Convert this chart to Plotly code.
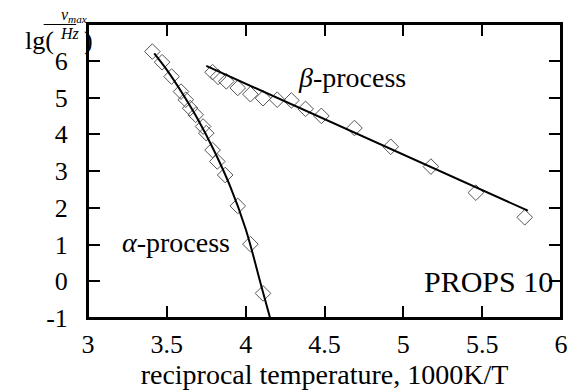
import plotly.graph_objects as go

# alpha-process data (reciprocal temperature, lg(nu_max/Hz))
alpha_x = [3.408, 3.47, 3.53, 3.59, 3.62, 3.648, 3.683, 3.73, 3.75, 3.79, 3.82, 3.87, 3.95, 4.03, 4.11]
alpha_y = [6.25, 5.96, 5.57, 5.16, 4.94, 4.71, 4.53, 4.21, 4.03, 3.57, 3.26, 2.89, 2.05, 1.01, -0.33]
# alpha fit curve
alpha_fit_x = [3.42, 3.5, 3.6, 3.7, 3.8, 3.9, 4.0, 4.1, 4.155]
alpha_fit_y = [6.2, 5.75, 5.1, 4.38, 3.55, 2.6, 1.42, -0.14, -1.0]

# beta-process data
beta_x = [3.79, 3.825, 3.877, 3.95, 4.03, 4.11, 4.20, 4.29, 4.38, 4.48, 4.69, 4.92, 5.175, 5.46, 5.77]
beta_y = [5.69, 5.56, 5.44, 5.26, 5.09, 4.98, 4.94, 4.92, 4.69, 4.50, 4.17, 3.66, 3.12, 2.41, 1.74]
beta_fit_x = [3.75, 5.79]
beta_fit_y = [5.86, 1.92]

x_ticks = [3, 3.5, 4, 4.5, 5, 5.5, 6]
x_ticktext = ["3", "3.5", "4", "4.5", "5", "5.5", "6"]
y_ticks = [-1, 0, 1, 2, 3, 4, 5, 6]
y_ticktext = ["-1", "0", "1", "2", "3", "4", "5", "6"]

FONT = "Liberation Serif, Times New Roman, serif"
W, H = 574, 391
ML, MR, MT, MB = 88, 6, 24, 73
PW, PH = W - ML - MR, H - MT - MB

def px(x):
    return (x - ML) / PW

def py(y):
    return (H - MB - y) / PH

fig = go.Figure()
mk = dict(symbol="diamond-open", size=12, color="#555555", line=dict(width=1, color="#555555"))
fig.add_trace(go.Scatter(x=alpha_x, y=alpha_y, mode="markers", marker=mk, showlegend=False))
fig.add_trace(go.Scatter(x=beta_x, y=beta_y, mode="markers", marker=mk, showlegend=False))
fig.add_trace(go.Scatter(x=alpha_fit_x, y=alpha_fit_y, mode="lines", line=dict(color="black", width=2, shape="spline"), showlegend=False))
fig.add_trace(go.Scatter(x=beta_fit_x, y=beta_fit_y, mode="lines", line=dict(color="black", width=2), showlegend=False))

axis_common = dict(
    showgrid=False, zeroline=False, showline=True, linecolor="black", linewidth=2,
    mirror="allticks", ticks="inside", ticklen=12, tickcolor="black", tickwidth=1.5,
    tickfont=dict(family=FONT, size=26, color="black"),
)
fig.update_xaxes(range=[3, 6], tickvals=x_ticks, ticktext=x_ticktext, ticklabelstandoff=2,
                 title=dict(text="reciprocal temperature, 1000K/T", font=dict(family=FONT, size=28, color="black"), standoff=0),
                 **axis_common)
fig.update_yaxes(range=[-1, 7], tickvals=y_ticks, ticktext=y_ticktext, ticklabelstandoff=13, **axis_common)

# frame
fig.add_shape(type="rect", xref="paper", yref="paper", x0=0, x1=1, y0=0, y1=1,
              line=dict(color="black", width=2), layer="above")

ann_font = dict(family=FONT, size=28, color="black")
fig.add_annotation(x=4.675, y=5.55, text="<i>β</i>-process", showarrow=False, font=ann_font)
fig.add_annotation(x=3.556, y=1.05, text="<i>α</i>-process", showarrow=False, font=ann_font)
fig.add_annotation(x=5.96, y=0, text="PROPS 10", showarrow=False, font=dict(family=FONT, size=30, color="black"), xanchor="right")

# y-axis label  lg( nu_max / Hz )
fig.add_annotation(xref="paper", yref="paper", x=px(22), y=py(24), text="lg(", showarrow=False,
                   font=dict(family=FONT, size=26, color="black"))
fig.add_annotation(xref="paper", yref="paper", x=px(59), y=py(27), yanchor="bottom",
                   text="<i>ν<sub>max</sub></i>", showarrow=False,
                   font=dict(family=FONT, size=16, color="black"))
fig.add_annotation(xref="paper", yref="paper", x=px(58), y=py(23), yanchor="top", text="<i>Hz</i>", showarrow=False,
                   font=dict(family=FONT, size=16, color="black"))
fig.add_annotation(xref="paper", yref="paper", x=px(82), y=py(24), text=")", showarrow=False,
                   font=dict(family=FONT, size=26, color="black"))
fig.add_shape(type="line", xref="paper", yref="paper", x0=px(43), x1=px(76), y0=py(24.5), y1=py(24.5),
              line=dict(color="black", width=1))

fig.update_layout(
    width=W, height=H, margin=dict(l=ML, r=MR, t=MT, b=MB),
    plot_bgcolor="white", paper_bgcolor="white",
)
fig.write_html("out.html")
